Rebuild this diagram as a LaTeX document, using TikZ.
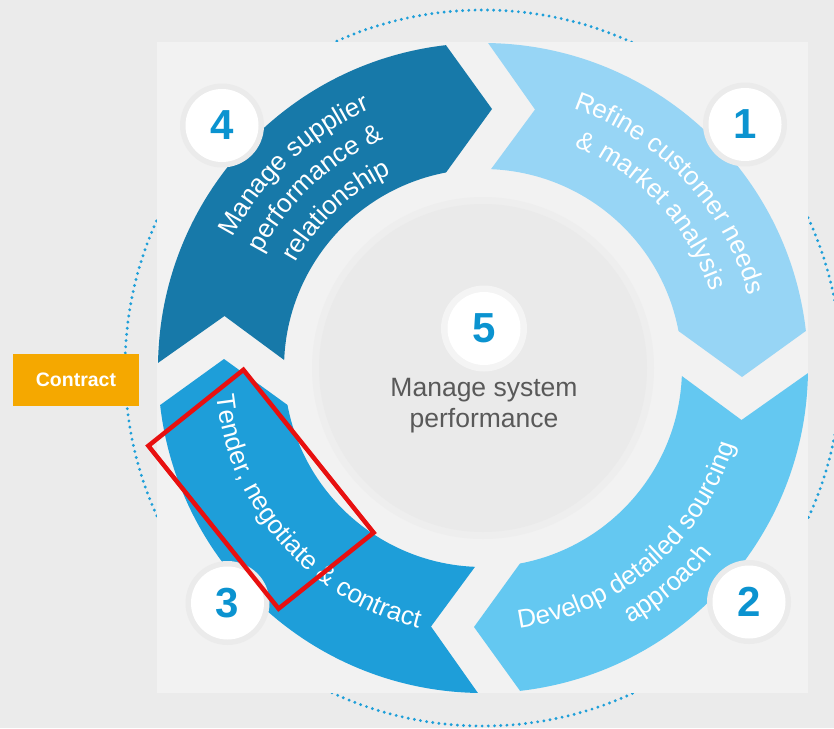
\documentclass[tikz,border=0pt]{standalone}
\usepackage{fontspec}
\setmainfont{Liberation Sans}
\usetikzlibrary{decorations.text}
\definecolor{bgout}{HTML}{EBEBEB}
\definecolor{panel}{HTML}{F2F2F2}
\definecolor{disk}{HTML}{EAEAEA}
\definecolor{diskedge}{HTML}{EEEEEE}
\definecolor{halogray}{HTML}{EBEBEB}
\definecolor{halofive}{HTML}{F4F4F4}
\definecolor{dotblue}{HTML}{1E9FD9}
\definecolor{aone}{HTML}{97D5F5}
\definecolor{atwo}{HTML}{64C8F1}
\definecolor{athree}{HTML}{1E9ED9}
\definecolor{afour}{HTML}{1779A9}
\definecolor{numblue}{HTML}{0B93D0}
\definecolor{midgray}{HTML}{595959}
\definecolor{contractorange}{HTML}{F5A800}
\definecolor{markred}{HTML}{E81010}
\newcommand\arcfont{\fontsize{26}{30}\selectfont}
\begin{document}
\begin{tikzpicture}[x=1pt,y=1pt,
  numcirc/.style={circle, fill=white, minimum size=73, inner sep=0pt, text=numblue, font=\fontsize{42}{42}\selectfont\bfseries},
  arctext/.style={decorate, decoration={text along path, text align=center, text color=white, text={#1}}},
]
\useasboundingbox (0,0) rectangle (834,-728);
\fill[bgout] (0,0) rectangle (834,-728);
\coordinate (C) at (483,-368);
\draw[dotblue, line width=3.2pt, line cap=round, dash pattern=on 0pt off 6.2pt] (C) circle[radius=358];
\fill[panel] (157,-42) rectangle (808,-693);
\fill[diskedge] (C) circle[radius=171];
\fill[disk] (C) circle[radius=164];
% ring arrows
\foreach \rot/\col in {0/afour, -90/aone, -180/atwo, 90/athree} {
  \fill[fill=\col, shift={(C)}, rotate=\rot]
    (96.55:325) -- (9,259) -- (100.7:199)
    arc[start angle=100.7, end angle=177.7, radius=199]
    -- (-258.5,52) -- (179.1:325)
    arc[start angle=179.1, end angle=96.55, radius=325] -- cycle;
}
% halos
\foreach \p in {(222,-125.5),(745,-124.5),(749,-602),(227.5,-603)}
  \fill[halogray] \p circle[radius=42];
\fill[halofive] (484,-328.5) circle[radius=43];
% number circles
\node[numcirc] (n4) at (222,-125.5) {4};
\node[numcirc] (n1) at (745,-124.5) {1};
\node[numcirc] (n2) at (749,-602) {2};
\node[numcirc] (n3) at (227.5,-603) {3};
\node[numcirc] (n5) at (484,-328.5) {5};
\node[text=midgray, font=\fontsize{26.5}{31}\selectfont, align=center] (ctext) at (484,-406) {Manage system\\performance};
% curved texts
\begin{scope}[shift={(C)}]
  \path[arctext={|\arcfont|Manage supplier}] (213:282) arc[start angle=213, end angle=53, radius=282];
  \path[arctext={|\arcfont|performance {\&}}] (213:249) arc[start angle=213, end angle=53, radius=249];
  \path[arctext={|\arcfont|relationship}] (213:215) arc[start angle=213, end angle=53, radius=215];
  \path[arctext={|\arcfont|Refine customer needs}] (123:275) arc[start angle=123, end angle=-37, radius=275];
  \path[arctext={|\arcfont|{\&} market analysis}] (123:240) arc[start angle=123, end angle=-37, radius=240];
  \path[arctext={|\arcfont|Develop detailed sourcing}] (-129.5:263) arc[start angle=-129.5, end angle=30.5, radius=263];
  \path[arctext={|\arcfont|approach}] (-129.5:295) arc[start angle=-129.5, end angle=30.5, radius=295];
  \path[arctext={|\arcfont|Tender, negotiate {\&} contract}] (141:268) arc[start angle=141, end angle=301, radius=268];
\end{scope}
% contract label
\node[fill=contractorange, minimum width=126.5, minimum height=52, inner sep=0pt, text=white, font=\fontsize{19.5}{20}\selectfont\bfseries] (contract) at (76,-380) {Contract};
% red highlight
\node[draw=markred, line width=4.5pt, minimum width=208.5, minimum height=121.7, inner sep=0pt, rotate=-51.35] (mark) at (261,-489.25) {};
\end{tikzpicture}
\end{document}
